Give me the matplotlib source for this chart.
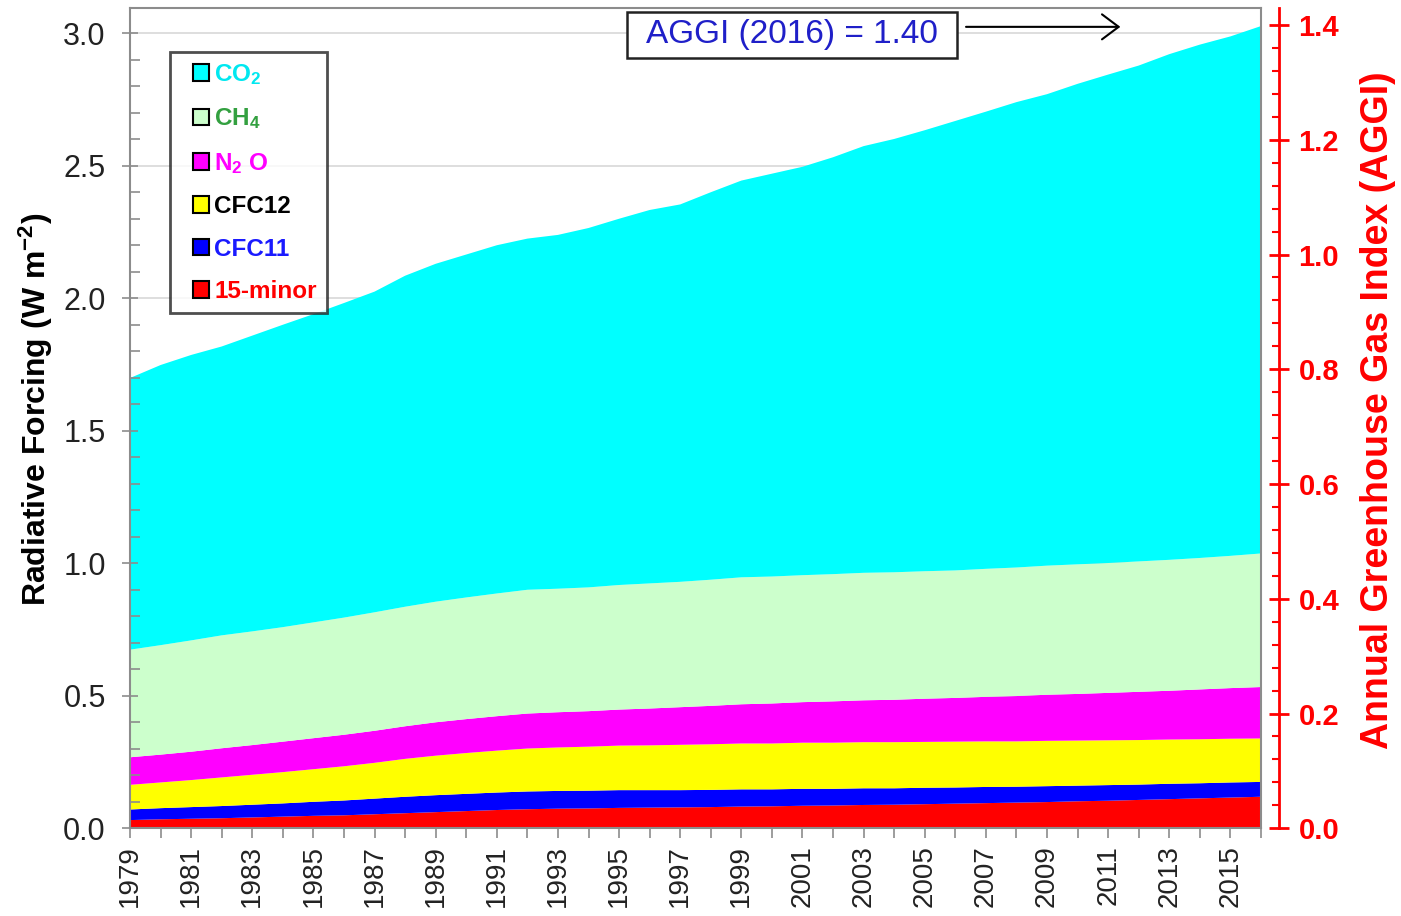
import matplotlib
matplotlib.use("Agg")
import matplotlib.pyplot as plt
from matplotlib.patches import Patch, Rectangle
from matplotlib.legend_handler import HandlerPatch
from matplotlib.ticker import MultipleLocator, FormatStrFormatter
import numpy as np

plt.rcParams['font.family'] = ['Liberation Sans', 'DejaVu Sans']
plt.rcParams['mathtext.fontset'] = 'custom'
plt.rcParams['mathtext.rm'] = 'Liberation Sans:bold'
plt.rcParams['mathtext.it'] = 'Liberation Sans:bold'
plt.rcParams['mathtext.bf'] = 'Liberation Sans:bold'

years = list(range(1979, 2017))

minor15 = [.031, .034, .036, .038, .041, .044, .047, .049, .053, .057, .061, .065,
           .069, .072, .074, .075, .077, .078, .079, .080, .082, .083, .085, .086,
           .088, .089, .091, .093, .095, .097, .099, .102, .104, .107, .110, .113,
           .116, .119]
cfc11 = [.040, .042, .044, .046, .048, .050, .053, .056, .059, .062, .064, .065,
         .066, .067, .067, .067, .067, .066, .065, .065, .065, .064, .064, .063,
         .063, .062, .062, .061, .061, .060, .060, .059, .059, .058, .058, .057,
         .057, .056]
cfc12 = [.093, .097, .102, .108, .113, .118, .123, .129, .135, .143, .149, .154,
         .158, .162, .164, .166, .168, .169, .171, .172, .173, .173, .174, .174,
         .174, .174, .173, .173, .172, .171, .171, .170, .169, .168, .167, .166,
         .165, .164]
n2o = [.104, .105, .107, .110, .112, .115, .117, .119, .121, .123, .126, .128,
       .130, .132, .133, .134, .136, .139, .142, .145, .148, .151, .153, .156,
       .158, .160, .163, .165, .168, .171, .174, .176, .179, .182, .184, .188,
       .191, .194]
ch4 = [.406, .413, .420, .426, .429, .432, .437, .442, .447, .451, .455, .459,
       .463, .467, .466, .467, .470, .472, .473, .476, .479, .479, .479, .480,
       .481, .481, .481, .481, .483, .485, .487, .489, .490, .492, .494, .496,
       .499, .504]
co2 = [1.025, 1.057, 1.077, 1.090, 1.116, 1.141, 1.163, 1.187, 1.210, 1.249,
       1.275, 1.294, 1.314, 1.325, 1.335, 1.356, 1.382, 1.409, 1.424, 1.462,
       1.497, 1.520, 1.541, 1.573, 1.610, 1.635, 1.664, 1.696, 1.725, 1.756,
       1.779, 1.813, 1.843, 1.871, 1.908, 1.937, 1.960, 1.990]

series_names = ["15-minor", "CFC11", "CFC12", "N$_2$ O", "CH$_4$", "CO$_2$"]
fill_colors = ["#ff0000", "#0000ff", "#ffff00", "#ff00ff", "#ccffcc", "#00ffff"]
text_colors = ["#ff0000", "#1a1aff", "#000000", "#ff00ff", "#33a040", "#00e8f0"]

aggi_ref_total_1990 = 2.165
aggi_label = "AGGI (2016) = 1.40"

fig = plt.figure(figsize=(14.01, 9.16), dpi=100)
ax = fig.add_axes([130 / 1401, 1 - 828.3 / 916, 1131 / 1401, 820 / 916])

ax.stackplot(years, minor15, cfc11, cfc12, n2o, ch4, co2, colors=fill_colors,
             linewidth=0, zorder=1)

ymax = 3.094
ax.set_xlim(years[0], years[-1])
ax.set_ylim(0, ymax)
ax.yaxis.set_major_locator(MultipleLocator(0.5))
ax.yaxis.set_minor_locator(MultipleLocator(0.1))
ax.yaxis.set_major_formatter(FormatStrFormatter('%.1f'))
for yv in np.arange(0.5, ymax, 0.5):
    ax.axhline(yv, color='#d8d8d8', lw=1.2, zorder=0)

ax.set_xticks(years)
ax.set_xticklabels([str(y) if y % 2 == 1 else '' for y in years], rotation=90)

grey = '#8c8c8c'
for s in ax.spines.values():
    s.set_color(grey)
    s.set_linewidth(1.5)
ax.tick_params(axis='y', which='major', direction='inout', length=11, width=1.2,
               color=grey, labelsize=22, pad=12, labelcolor='#222222')
ax.tick_params(axis='y', which='minor', direction='in', length=7, width=1.2, color=grey)
ax.tick_params(axis='x', which='major', direction='out', length=7, width=1.2,
               color=grey, labelsize=20, pad=5, labelcolor='#222222')

ax.set_ylabel("Radiative Forcing (W m$^{-2}$)", fontsize=23, fontweight='bold',
              labelpad=6)
ax.yaxis.label.set_y(0.511)

ax2 = ax.twinx()
ax2.set_ylim(0, ymax / aggi_ref_total_1990)
for side in ['top', 'left', 'bottom']:
    ax2.spines[side].set_visible(False)
ax2.spines['right'].set_position(('outward', 13))
ax2.spines['right'].set_color('red')
ax2.spines['right'].set_linewidth(2)
ax2.yaxis.set_major_locator(MultipleLocator(0.2))
ax2.yaxis.set_minor_locator(MultipleLocator(0.04))
ax2.yaxis.set_major_formatter(FormatStrFormatter('%.1f'))
ax2.tick_params(axis='y', which='major', direction='inout', length=14, width=2,
                color='red', labelcolor='red', labelsize=21, pad=7)
ax2.tick_params(axis='y', which='minor', direction='in', length=5, width=1.5,
                color='red')
for lab in ax2.get_yticklabels():
    lab.set_fontweight('bold')
ax2.set_ylabel("Annual Greenhouse Gas Index (AGGI)", color='red', fontsize=27,
               fontweight='bold', labelpad=15)
ax2.yaxis.label.set_y(0.51)


def square_patch(legend, orig_handle, xdescent, ydescent, width, height, fontsize):
    side = 0.68 * fontsize
    return Rectangle((-xdescent + width - side, -ydescent + (height - side) / 2),
                     side, side)


handles = [Patch(facecolor=c, edgecolor='black', linewidth=1.5) for c in fill_colors]
leg = ax.legend(handles[::-1], series_names[::-1], loc='upper left',
                bbox_to_anchor=(0.0354, 0.9467), fontsize=17.5, frameon=True,
                fancybox=False, borderpad=0.42, handlelength=1.2, handleheight=0.7,
                handletextpad=0.2, labelspacing=0.8, borderaxespad=0,
                handler_map={Patch: HandlerPatch(patch_func=square_patch)})
leg.get_frame().set_edgecolor('#222222')
leg.get_frame().set_linewidth(2)
for txt, col in zip(leg.get_texts(), text_colors[::-1]):
    txt.set_color(col)
    txt.set_fontweight('bold')

# annotation box and arrow
box_x0, box_x1 = 1995.26, 2006.05
box_y0, box_y1 = 2.907, 3.080
ax.add_patch(Rectangle((box_x0, box_y0), box_x1 - box_x0, box_y1 - box_y0,
                       facecolor='white', edgecolor='#222222', linewidth=1.8,
                       zorder=5))
ax.text((box_x0 + box_x1) / 2, (box_y0 + box_y1) / 2, aggi_label, fontsize=24,
        color='#1f1fc8', ha='center', va='center', zorder=6)
ax.annotate('', xy=(2011.4, 3.024), xytext=(2006.35, 3.024),
            arrowprops=dict(arrowstyle='->,head_length=0.4,head_width=0.3',
                            color='black', lw=1.5, mutation_scale=30,
                            shrinkA=0, shrinkB=0), zorder=5)

fig.savefig('out.png', dpi=100)
